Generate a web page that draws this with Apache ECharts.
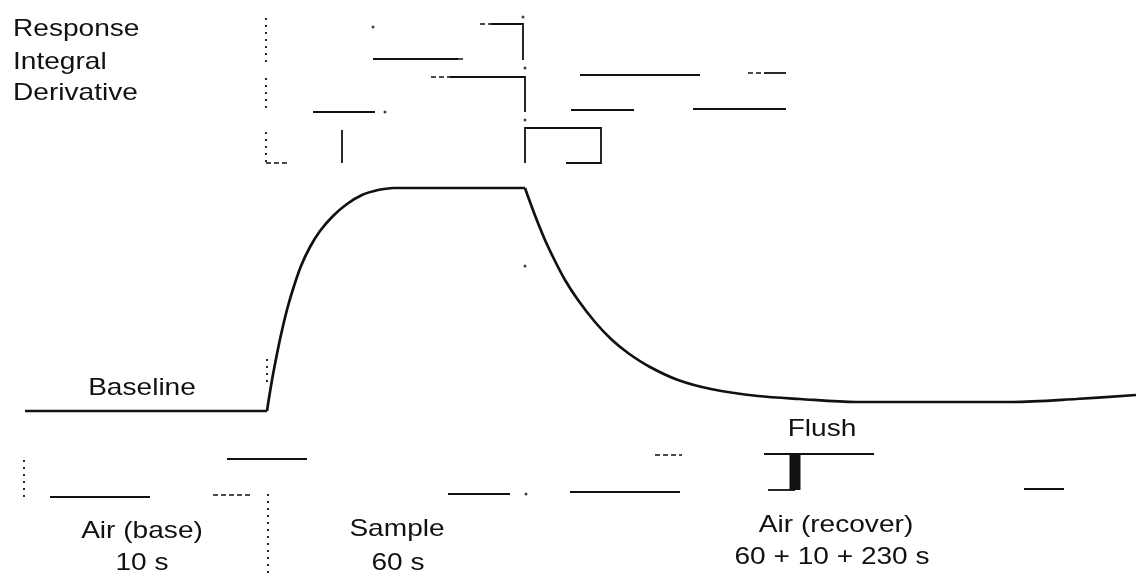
<!DOCTYPE html>
<html>
<head>
<meta charset="utf-8">
<script src="https://cdn.jsdelivr.net/npm/echarts@6/dist/echarts.min.js"></script>
<style>
  html, body { margin: 0; padding: 0; background: #fff; }
  #main { width: 1136px; height: 574px; }
</style>
</head>
<body>
<div id="main"></div>
<script>
// schematic units: x = time position, y = signal position (downwards)
const baselineX = [25, 267];
const baselineY = [411, 411];
const riseX = [267, 269, 272, 275, 279, 283, 288, 294, 301, 310, 320, 333, 347, 362, 378, 393];
const riseY = [411, 398, 380, 364, 344, 326, 306, 286, 266, 247, 231, 216, 204, 195, 190, 188];
const plateauX = [393, 525];
const plateauY = [188, 188];
const decayX = [525, 530, 536, 545, 555, 565, 578, 595, 611, 628, 650, 678, 711, 758, 800, 856, 1013, 1076, 1136];
const decayY = [188, 202, 218, 240, 261, 280, 300, 322, 339, 353, 367, 380, 389, 396, 399, 402, 402, 399, 395];

// timing traces (Response / Integral / Derivative and valve states)
const solidTraces = [
    [[373, 59], [458, 59]],
    [[491, 24], [523, 24], [523, 60]],
    [[450, 77], [525, 77], [525, 112]],
    [[580, 75], [700, 75]],
    [[764, 73], [786, 73]],
    [[313, 112], [375, 112]],
    [[571, 110], [634, 110]],
    [[693, 109], [786, 109]],
    [[342, 130], [342, 163]],
    [[566, 163], [601, 163], [601, 128], [525, 128], [525, 163]],
    [[50, 497], [150, 497]],
    [[227, 459], [307, 459]],
    [[448, 494], [510, 494]],
    [[570, 492], [680, 492]],
    [[764, 454], [874, 454]],
    [[768, 490], [795, 490]],
    [[1024, 489], [1064, 489]]
];
const dashedTraces = [
    [[458, 59], [464, 59]],
    [[480, 24], [491, 24]],
    [[431, 77], [450, 77]],
    [[748, 73], [764, 73]],
    [[266, 163], [287, 163]],
    [[213, 495], [253, 495]],
    [[655, 455], [682, 455]]
];
const dottedTraces = [
    [[266, 18], [266, 62]],
    [[266, 78], [266, 113]],
    [[266, 132], [266, 163]],
    [[267, 359], [267, 384]],
    [[24, 460], [24, 497]],
    [[268, 494], [268, 574]]
];
const flushBar = [[[795, 454], [795, 490]]];
const strayDots = [[373, 27], [523, 17], [525, 68], [525, 120], [525, 266], [385, 112], [526, 494]];

const labelTexts = ["Response", "Integral", "Derivative", "Baseline", "Flush",
    "Air (base)", "10 s", "Sample", "60 s", "Air (recover)", "60 + 10 + 230 s"];
const labelX = [13, 13, 13, 142, 822, 142, 142, 397, 398, 836, 832];
const labelY = [29, 62, 93, 388, 429, 531, 563, 529, 563, 525, 557];
const labelAlign = ["left", "left", "left", "center", "center",
    "center", "center", "center", "center", "center", "center"];

const ink = "#111";
const zip = (xs, ys) => xs.map((x, i) => [x, ys[i]]);
const toLines = (list) => list.map((c) => ({ coords: c }));

const curveSeries = (xs, ys, smooth) => ({
    type: "line",
    data: zip(xs, ys),
    smooth: smooth,
    showSymbol: false,
    silent: true,
    lineStyle: { color: ink, width: 2.7 },
});

var myChart = echarts.init(document.getElementById("main"));
myChart.setOption({
    animation: false,
    backgroundColor: "#fff",
    grid: { left: 0, right: 0, top: 0, bottom: 0 },
    xAxis: { type: "value", min: 0, max: 1136, show: false },
    yAxis: { type: "value", min: 0, max: 574, inverse: true, show: false },
    series: [
        curveSeries(baselineX, baselineY, false),
        curveSeries(riseX, riseY, 0.3),
        curveSeries(plateauX, plateauY, false),
        curveSeries(decayX, decayY, 0.3),
        {
            type: "lines",
            coordinateSystem: "cartesian2d",
            polyline: true,
            silent: true,
            lineStyle: { color: ink, width: 1.8, opacity: 1 },
            data: toLines(solidTraces),
        },
        {
            type: "lines",
            coordinateSystem: "cartesian2d",
            polyline: true,
            silent: true,
            lineStyle: { color: ink, width: 1.5, type: [5, 3], opacity: 1 },
            data: toLines(dashedTraces),
        },
        {
            type: "lines",
            coordinateSystem: "cartesian2d",
            polyline: true,
            silent: true,
            lineStyle: { color: ink, width: 1.8, type: [2, 5], opacity: 1 },
            data: toLines(dottedTraces),
        },
        {
            type: "lines",
            coordinateSystem: "cartesian2d",
            polyline: true,
            silent: true,
            lineStyle: { color: ink, width: 11, cap: "butt", opacity: 1 },
            data: toLines(flushBar),
        },
        {
            type: "scatter",
            data: strayDots,
            symbolSize: 3,
            silent: true,
            itemStyle: { color: ink },
        },
    ],
});

// labels: the scan's lettering is a horizontally stretched Helvetica
const graphics = labelTexts.map((t, i) => {
    const p = myChart.convertToPixel({ gridIndex: 0 }, [labelX[i], labelY[i]]);
    return {
        type: "text",
        x: p[0],
        y: p[1],
        scaleX: 1.17,
        silent: true,
        style: {
            text: t,
            x: 0,
            y: 0,
            align: labelAlign[i],
            verticalAlign: "middle",
            fill: ink,
            font: '24px "Liberation Sans", Arial, sans-serif',
        },
    };
});
myChart.setOption({ graphic: graphics });
</script>
</body>
</html>
